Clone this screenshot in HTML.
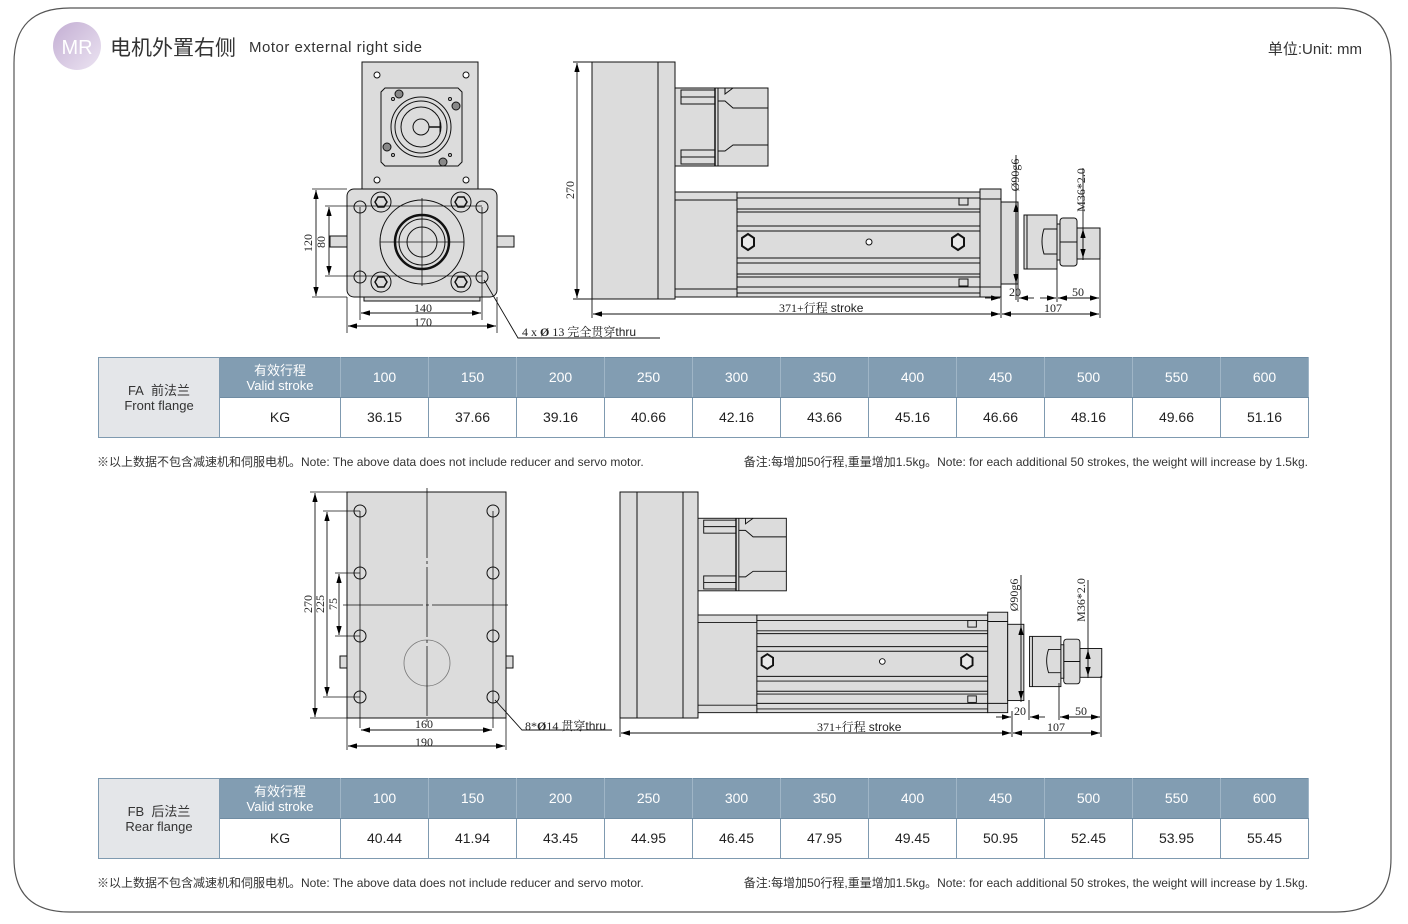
<!DOCTYPE html>
<html><head><meta charset="utf-8"><style>
*{margin:0;padding:0;box-sizing:border-box}
body{width:1408px;height:924px;background:#fff;position:relative;overflow:hidden;font-family:"Liberation Sans","Noto Sans CJK SC",sans-serif;color:#333}
svg{position:absolute;left:0;top:0}
table{position:absolute;left:98px;border-collapse:collapse;table-layout:fixed;width:1210px;font-family:"Liberation Sans","Noto Sans CJK SC",sans-serif}
td{border:1.5px solid #7f9ab0;text-align:center;font-size:14px;color:#222;height:40px;line-height:15px}
tr.h td{background:#829db2;color:#fff;border-color:#6f8ca3 #9fb5c6}
tr.h td.f{background:#e4e6e9;color:#333;font-size:13px;border-color:#7f9ab0}
.note{position:absolute;font-size:12px;color:#333;white-space:nowrap}
</style></head><body>
<svg width="1408" height="924" viewBox="0 0 1408 924" font-family="Liberation Serif, Noto Serif CJK SC, serif">
<defs>
<linearGradient id="g" x1="0" y1="0" x2="1" y2="1"><stop offset="0" stop-color="#c3aed3"/><stop offset="1" stop-color="#ece4f2"/></linearGradient>
<marker id="a" viewBox="0 0 10 6" refX="10" refY="3" markerWidth="10" markerHeight="6" orient="auto-start-reverse"><path d="M0,0L10,3L0,6z" fill="#000"/></marker>
<g id="act" stroke="#111" stroke-width="1" fill="#dcdcdc">
<rect x="675" y="88" width="93" height="78"/>
<rect x="681" y="90" width="34" height="14"/><line x1="681" y1="97" x2="715" y2="97"/>
<rect x="681" y="150" width="34" height="14"/><line x1="681" y1="157" x2="715" y2="157"/>
<line x1="715" y1="88" x2="715" y2="166" stroke-width="1.5"/><line x1="718" y1="88" x2="718" y2="166"/>
<polyline points="725,88 725,94 733,88" fill="none"/><polyline points="718,101 725,101 733,108 768,108" fill="none"/>
<polyline points="718,151 725,151 733,145 768,145" fill="none"/>
<rect x="675" y="192" width="62" height="105"/><line x1="675" y1="200" x2="737" y2="200"/><line x1="675" y1="289" x2="737" y2="289"/>
<rect x="737" y="192" width="243" height="105"/>
<g fill="none"><line x1="737" y1="198" x2="980" y2="198"/><line x1="737" y1="209" x2="980" y2="209"/><line x1="737" y1="212" x2="980" y2="212"/><line x1="737" y1="226" x2="980" y2="226"/><line x1="737" y1="231" x2="980" y2="231"/><line x1="737" y1="258" x2="980" y2="258"/><line x1="737" y1="263" x2="980" y2="263"/><line x1="737" y1="274" x2="980" y2="274"/><line x1="737" y1="277" x2="980" y2="277"/><line x1="737" y1="287" x2="980" y2="287"/><line x1="737" y1="293" x2="980" y2="293"/></g>
<rect x="959" y="198" width="9" height="7"/><rect x="959" y="279" width="9" height="7"/>
<polygon points="742,238 748,234 754,238 754,246 748,250 742,246" stroke-width="2" fill="#e8e8e8"/>
<polygon points="952,238 958,234 964,238 964,246 958,250 952,246" stroke-width="2" fill="#e8e8e8"/>
<circle cx="869" cy="242" r="3" fill="#fff"/>
<rect x="980" y="189" width="21" height="108"/><line x1="980" y1="199" x2="1001" y2="199"/><line x1="980" y1="287" x2="1001" y2="287"/>
<rect x="1001" y="202" width="17" height="82"/>
<rect x="1024" y="215" width="33" height="54"/><line x1="1027" y1="215" x2="1027" y2="269"/>
<path d="M1044,229 H1058 V254 H1044 Q1040,241 1044,229z"/>
<rect x="1077" y="228" width="23" height="31"/>
<rect x="1060" y="218" width="17" height="48" rx="3"/><line x1="1060" y1="242" x2="1077" y2="242"/><rect x="1057" y="224" width="3" height="36"/>
</g>
</defs>
<path d="M70,8 H1336 Q1391,8 1391,63 V858 Q1391,912 1336,912 H70 Q14,912 14,858 V63 Q14,8 70,8z" fill="none" stroke="#555" stroke-width="1.2"/>
<circle cx="77" cy="46" r="24" fill="url(#g)"/>
<text x="77" y="54" text-anchor="middle" font-family="Liberation Sans, sans-serif" font-size="20" fill="#fff">MR</text>
<text x="110" y="55" font-family="Liberation Sans, Noto Sans CJK SC, sans-serif" font-size="21" fill="#333">电机外置右侧</text>
<text x="249" y="52" font-family="Liberation Sans, sans-serif" font-size="15" fill="#333" textLength="173">Motor external right side</text>
<text x="1362" y="54" text-anchor="end" font-family="Liberation Sans, Noto Sans CJK SC, sans-serif" font-size="15" fill="#333">单位:Unit: mm</text>

<!-- top front view -->
<g stroke="#111" stroke-width="1" fill="#dcdcdc">
<rect x="364" y="297" width="116" height="4"/>
<rect x="362" y="62" width="116" height="128"/>
<g fill="#fff"><circle cx="377" cy="75" r="3"/><circle cx="466" cy="75" r="3"/><circle cx="377" cy="180" r="3"/><circle cx="466" cy="180" r="3"/></g>
<polygon points="385,88 458,88 462,92 462,162 458,166 385,166 381,162 381,92"/>
<circle cx="421" cy="127" r="30" fill="none"/><circle cx="421" cy="127" r="26" fill="none"/><circle cx="421" cy="127" r="20" fill="none"/><circle cx="421" cy="127" r="8" fill="none"/>
<line x1="429" y1="127" x2="440" y2="127" stroke-width="1.5"/><line x1="440" y1="120" x2="440" y2="134"/>
<g fill="#888"><circle cx="399" cy="94" r="4"/><circle cx="456" cy="106" r="4"/><circle cx="387" cy="147" r="4"/><circle cx="443" cy="162" r="4"/></g>
<g fill="none"><circle cx="393" cy="99" r="1.5"/><circle cx="450" cy="99" r="1.5"/><circle cx="393" cy="155" r="1.5"/><circle cx="450" cy="155" r="1.5"/></g>
<rect x="330" y="236" width="17" height="11"/><rect x="497" y="236" width="17" height="11"/>
<rect x="347" y="189" width="150" height="108" rx="7"/>
<g fill="none"><circle cx="360" cy="207" r="6"/><circle cx="482" cy="207" r="6"/><circle cx="360" cy="277" r="6"/><circle cx="482" cy="277" r="6"/></g>
<g><circle cx="381" cy="202" r="10"/><circle cx="461" cy="202" r="10"/><circle cx="381" cy="282" r="10"/><circle cx="461" cy="282" r="10"/>
<polygon points="375,202 378,197 384,197 387,202 384,207 378,207" stroke-width="1.5"/><polygon points="455,202 458,197 464,197 467,202 464,207 458,207" stroke-width="1.5"/><polygon points="375,282 378,277 384,277 387,282 384,287 378,287" stroke-width="1.5"/><polygon points="455,282 458,277 464,277 467,282 464,287 458,287" stroke-width="1.5"/></g>
<circle cx="422" cy="242" r="42"/><circle cx="422" cy="242" r="27" stroke-width="2.5"/><circle cx="422" cy="242" r="23"/><circle cx="422" cy="242" r="15"/>
<g fill="none" stroke-width="0.8"><line x1="380" y1="242" x2="464" y2="242"/><line x1="422" y1="198" x2="422" y2="286"/><line x1="360" y1="207" x2="360" y2="320"/><line x1="482" y1="207" x2="482" y2="320"/><line x1="347" y1="297" x2="347" y2="333"/><line x1="497" y1="297" x2="497" y2="333"/><line x1="312" y1="189" x2="347" y2="189"/><line x1="312" y1="297" x2="347" y2="297"/><line x1="325" y1="206" x2="482" y2="206"/><line x1="325" y1="276" x2="482" y2="276"/></g>
</g>
<g stroke="#111" stroke-width="0.9" fill="none">
<line x1="316" y1="190" x2="316" y2="296" marker-start="url(#a)" marker-end="url(#a)"/>
<line x1="329" y1="207" x2="329" y2="275" marker-start="url(#a)" marker-end="url(#a)"/>
<line x1="361" y1="313" x2="481" y2="313" marker-start="url(#a)" marker-end="url(#a)"/>
<line x1="348" y1="326" x2="496" y2="326" marker-start="url(#a)" marker-end="url(#a)"/>
<polyline points="484,280 518,338 660,338"/>
</g>
<g font-size="12" fill="#222">
<text x="312" y="243" transform="rotate(-90 312 243)" text-anchor="middle">120</text>
<text x="325" y="242" transform="rotate(-90 325 242)" text-anchor="middle">80</text>
<text x="423" y="312" text-anchor="middle">140</text><text x="423" y="326" text-anchor="middle">170</text>
<text x="522" y="336">4  x  <tspan font-weight="bold">Ø</tspan>  13  完全贯穿<tspan font-family="Liberation Sans, sans-serif">thru</tspan></text>
</g>

<!-- top side view -->
<g stroke="#111" stroke-width="1" fill="#dcdcdc">
<rect x="592" y="62" width="66" height="237"/><rect x="658" y="62" width="17" height="237"/>
</g>
<use href="#act"/>
<g stroke="#111" stroke-width="0.9" fill="none">
<line x1="573" y1="62" x2="592" y2="62"/><line x1="573" y1="299" x2="592" y2="299"/>
<line x1="577" y1="63" x2="577" y2="298" marker-start="url(#a)" marker-end="url(#a)"/>
<line x1="592" y1="299" x2="592" y2="318"/><line x1="1001" y1="297" x2="1001" y2="318"/><line x1="1018" y1="284" x2="1018" y2="302"/><line x1="1100" y1="259" x2="1100" y2="318"/><line x1="1057" y1="269" x2="1057" y2="302"/>
<line x1="593" y1="314" x2="1000" y2="314" marker-start="url(#a)" marker-end="url(#a)"/>
<line x1="1002" y1="314" x2="1099" y2="314" marker-start="url(#a)" marker-end="url(#a)"/>
<line x1="985" y1="298" x2="1000" y2="298" marker-end="url(#a)"/><line x1="1034" y1="298" x2="1019" y2="298" marker-end="url(#a)"/>
<line x1="1040" y1="298" x2="1056" y2="298" marker-end="url(#a)"/><line x1="1058" y1="298" x2="1099" y2="298" marker-start="url(#a)" marker-end="url(#a)"/>
<line x1="1016" y1="155" x2="1016" y2="300"/><line x1="1016" y1="203" x2="1016" y2="283" marker-start="url(#a)" marker-end="url(#a)"/>
<line x1="1083" y1="168" x2="1083" y2="260"/><line x1="1083" y1="229" x2="1083" y2="258" marker-start="url(#a)" marker-end="url(#a)"/>
</g>
<g font-size="12" fill="#222">
<text x="574" y="190" transform="rotate(-90 574 190)" text-anchor="middle">270</text>
<text x="779" y="312">371+行程 <tspan font-family="Liberation Sans, sans-serif">stroke</tspan></text>
<text x="1009" y="296">20</text><text x="1072" y="296">50</text><text x="1044" y="312">107</text>
<text x="1019" y="175" transform="rotate(-90 1019 175)" text-anchor="middle">Ø90g6</text>
<text x="1085" y="190" transform="rotate(-90 1085 190)" text-anchor="middle">M36*2.0</text>
</g>

<!-- lower rear view -->
<g stroke="#111" stroke-width="1" fill="#dcdcdc">
<rect x="340" y="656" width="7" height="12"/><rect x="506" y="656" width="7" height="12"/>
<rect x="347" y="492" width="159" height="226"/>
<g fill="none"><circle cx="360" cy="511" r="6"/><circle cx="493" cy="511" r="6"/><circle cx="360" cy="573" r="6"/><circle cx="493" cy="573" r="6"/><circle cx="360" cy="636" r="6"/><circle cx="493" cy="636" r="6"/><circle cx="360" cy="697" r="6"/><circle cx="493" cy="697" r="6"/>
<circle cx="427" cy="663" r="23" stroke="#777" stroke-width="0.8"/></g>
<g fill="none" stroke-width="0.8"><line x1="427" y1="488" x2="427" y2="722" stroke-dasharray="70,3,3,3"/><line x1="343" y1="605" x2="508" y2="605" stroke-dasharray="80,3,3,3"/>
<line x1="360" y1="511" x2="360" y2="728"/><line x1="493" y1="511" x2="493" y2="728"/><line x1="347" y1="718" x2="347" y2="750"/><line x1="506" y1="718" x2="506" y2="750"/>
<line x1="310" y1="492" x2="347" y2="492"/><line x1="310" y1="718" x2="347" y2="718"/><line x1="323" y1="511" x2="360" y2="511"/><line x1="323" y1="697" x2="360" y2="697"/><line x1="335" y1="573" x2="360" y2="573"/><line x1="335" y1="636" x2="360" y2="636"/></g>
</g>
<g stroke="#111" stroke-width="0.9" fill="none">
<line x1="315" y1="493" x2="315" y2="717" marker-start="url(#a)" marker-end="url(#a)"/>
<line x1="327" y1="512" x2="327" y2="696" marker-start="url(#a)" marker-end="url(#a)"/>
<line x1="339" y1="574" x2="339" y2="635" marker-start="url(#a)" marker-end="url(#a)"/>
<line x1="361" y1="730" x2="492" y2="730" marker-start="url(#a)" marker-end="url(#a)"/>
<line x1="348" y1="746" x2="505" y2="746" marker-start="url(#a)" marker-end="url(#a)"/>
<polyline points="495,700 522,730 612,730"/>
</g>
<g font-size="12" fill="#222">
<text x="312" y="604" transform="rotate(-90 312 604)" text-anchor="middle">270</text>
<text x="324" y="604" transform="rotate(-90 324 604)" text-anchor="middle">225</text>
<text x="337" y="604" transform="rotate(-90 337 604)" text-anchor="middle">75</text>
<text x="424" y="728" text-anchor="middle">160</text><text x="424" y="746" text-anchor="middle">190</text>
<text x="525" y="730">8*<tspan font-weight="bold">Ø</tspan>14  贯穿<tspan font-family="Liberation Sans, sans-serif">thru</tspan></text>
</g>

<!-- lower side view -->
<g stroke="#111" stroke-width="1" fill="#dcdcdc">
<rect x="620" y="492" width="78" height="226"/><line x1="637" y1="492" x2="637" y2="718"/><line x1="683" y1="492" x2="683" y2="718"/>
</g>
<use href="#act" transform="translate(698 615) scale(0.95 0.93) translate(-675 -192)"/>
<g stroke="#111" stroke-width="0.9" fill="none">
<line x1="620" y1="718" x2="620" y2="737"/><line x1="1012" y1="711" x2="1012" y2="737"/><line x1="1029" y1="700" x2="1029" y2="720"/><line x1="1101" y1="676" x2="1101" y2="737"/><line x1="1059" y1="683" x2="1059" y2="720"/>
<line x1="621" y1="733" x2="1011" y2="733" marker-start="url(#a)" marker-end="url(#a)"/>
<line x1="1013" y1="733" x2="1100" y2="733" marker-start="url(#a)" marker-end="url(#a)"/>
<line x1="996" y1="717" x2="1011" y2="717" marker-end="url(#a)"/><line x1="1045" y1="717" x2="1030" y2="717" marker-end="url(#a)"/>
<line x1="1060" y1="717" x2="1100" y2="717" marker-start="url(#a)" marker-end="url(#a)"/>
<line x1="1021" y1="575" x2="1021" y2="702"/><line x1="1021" y1="626" x2="1021" y2="700" marker-start="url(#a)" marker-end="url(#a)"/>
<line x1="1088" y1="580" x2="1088" y2="678"/><line x1="1088" y1="650" x2="1088" y2="676" marker-start="url(#a)" marker-end="url(#a)"/>
</g>
<g font-size="12" fill="#222">
<text x="817" y="731">371+行程 <tspan font-family="Liberation Sans, sans-serif">stroke</tspan></text>
<text x="1014" y="715">20</text><text x="1075" y="715">50</text><text x="1047" y="731">107</text>
<text x="1018" y="595" transform="rotate(-90 1018 595)" text-anchor="middle">Ø90g6</text>
<text x="1085" y="600" transform="rotate(-90 1085 600)" text-anchor="middle">M36*2.0</text>
</g>
</svg>

<table style="top:357px"><colgroup><col style="width:121px"><col style="width:121px"><col span="11" style="width:88px"></colgroup>
<tr class="h"><td class="f" rowspan="2">FA&nbsp; 前法兰<br>Front flange</td><td style="font-size:13px">有效行程<br>Valid stroke</td><td>100</td><td>150</td><td>200</td><td>250</td><td>300</td><td>350</td><td>400</td><td>450</td><td>500</td><td>550</td><td>600</td></tr>
<tr><td>KG</td><td>36.15</td><td>37.66</td><td>39.16</td><td>40.66</td><td>42.16</td><td>43.66</td><td>45.16</td><td>46.66</td><td>48.16</td><td>49.66</td><td>51.16</td></tr></table>
<div class="note" style="left:97px;top:453px">※以上数据不包含减速机和伺服电机。Note: The above data does not include reducer and servo motor.</div>
<div class="note" style="right:100px;top:453px">备注:每增加50行程,重量增加1.5kg。Note: for each additional 50 strokes, the weight will increase by 1.5kg.</div>

<table style="top:778px"><colgroup><col style="width:121px"><col style="width:121px"><col span="11" style="width:88px"></colgroup>
<tr class="h"><td class="f" rowspan="2">FB&nbsp; 后法兰<br>Rear flange</td><td style="font-size:13px">有效行程<br>Valid stroke</td><td>100</td><td>150</td><td>200</td><td>250</td><td>300</td><td>350</td><td>400</td><td>450</td><td>500</td><td>550</td><td>600</td></tr>
<tr><td>KG</td><td>40.44</td><td>41.94</td><td>43.45</td><td>44.95</td><td>46.45</td><td>47.95</td><td>49.45</td><td>50.95</td><td>52.45</td><td>53.95</td><td>55.45</td></tr></table>
<div class="note" style="left:97px;top:874px">※以上数据不包含减速机和伺服电机。Note: The above data does not include reducer and servo motor.</div>
<div class="note" style="right:100px;top:874px">备注:每增加50行程,重量增加1.5kg。Note: for each additional 50 strokes, the weight will increase by 1.5kg.</div>
</body></html>
